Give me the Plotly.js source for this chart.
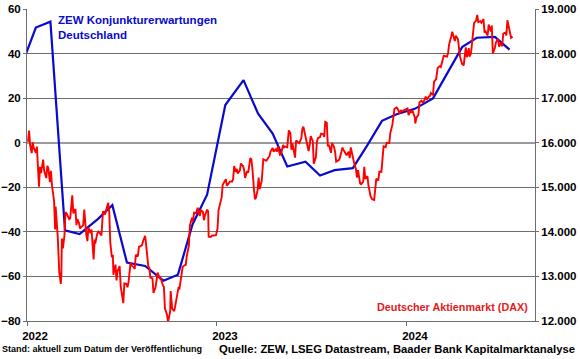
<!DOCTYPE html>
<html>
<head>
<meta charset="utf-8">
<script src="https://cdn.plot.ly/plotly-3.0.1.min.js"></script>
<style>
html,body{margin:0;padding:0;background:#fff;}
#chart{width:580px;height:359px;}
</style>
</head>
<body>
<div id="chart"></div>
<script>
// ZEW Konjunkturerwartungen Deutschland (monthly release dates)
const zewDates = ["2021-12-14","2022-01-18","2022-02-15","2022-03-15","2022-04-12","2022-05-17","2022-06-14","2022-07-12","2022-08-16","2022-09-20","2022-10-18","2022-11-15","2022-12-13",
"2023-01-17","2023-02-21","2023-03-21","2023-04-18","2023-05-16","2023-06-20","2023-07-18","2023-08-15","2023-09-19","2023-10-17","2023-11-14","2023-12-12",
"2024-01-16","2024-02-20","2024-03-19","2024-04-16","2024-05-14","2024-06-18","2024-07-16"];
const zewValues = [29.9,51.7,54.3,-39.3,-41.0,-34.3,-28.0,-53.8,-55.3,-61.9,-59.2,-36.7,-23.3,
16.9,28.1,13.0,4.1,-10.7,-8.5,-14.7,-12.3,-11.4,-1.1,9.8,12.8,
15.2,19.9,31.7,42.9,47.1,47.5,41.8];

// Deutscher Aktienmarkt (DAX)
const daxDates = [
"2022-01-03","2022-01-05","2022-01-07","2022-01-10","2022-01-12","2022-01-14","2022-01-18","2022-01-20","2022-01-24","2022-01-26","2022-01-28",
"2022-02-01","2022-02-03","2022-02-07","2022-02-09","2022-02-11","2022-02-14","2022-02-16","2022-02-18","2022-02-22","2022-02-24","2022-02-25",
"2022-03-01","2022-03-04","2022-03-07","2022-03-08","2022-03-09","2022-03-11","2022-03-14","2022-03-16","2022-03-18","2022-03-21","2022-03-23","2022-03-25","2022-03-29","2022-03-31",
"2022-04-04","2022-04-06","2022-04-08","2022-04-11","2022-04-13","2022-04-19","2022-04-21","2022-04-25","2022-04-27","2022-04-29",
"2022-05-03","2022-05-05","2022-05-09","2022-05-11","2022-05-12","2022-05-16","2022-05-18","2022-05-20","2022-05-24","2022-05-27","2022-05-31",
"2022-06-02","2022-06-06","2022-06-08","2022-06-10","2022-06-13","2022-06-15","2022-06-16","2022-06-20","2022-06-22","2022-06-24","2022-06-28","2022-06-30",
"2022-07-05","2022-07-07","2022-07-11","2022-07-13","2022-07-15","2022-07-19","2022-07-21","2022-07-25","2022-07-27","2022-07-29",
"2022-08-02","2022-08-04","2022-08-08","2022-08-10","2022-08-12","2022-08-16","2022-08-18","2022-08-22","2022-08-24","2022-08-26","2022-08-30",
"2022-09-01","2022-09-05","2022-09-07","2022-09-09","2022-09-13","2022-09-15","2022-09-19","2022-09-21","2022-09-23","2022-09-27","2022-09-29",
"2022-10-03","2022-10-04","2022-10-07","2022-10-11","2022-10-13","2022-10-17","2022-10-19","2022-10-21","2022-10-25","2022-10-27","2022-10-31",
"2022-11-02","2022-11-04","2022-11-08","2022-11-10","2022-11-14","2022-11-16","2022-11-18","2022-11-22","2022-11-25","2022-11-29",
"2022-12-01","2022-12-05","2022-12-07","2022-12-09","2022-12-13","2022-12-15","2022-12-16","2022-12-20","2022-12-22","2022-12-30",
"2023-01-02","2023-01-04","2023-01-06","2023-01-10","2023-01-12","2023-01-16","2023-01-18","2023-01-20","2023-01-24","2023-01-26","2023-01-30",
"2023-02-01","2023-02-03","2023-02-06","2023-02-08","2023-02-10","2023-02-14","2023-02-16","2023-02-20","2023-02-22","2023-02-24","2023-02-28",
"2023-03-02","2023-03-06","2023-03-08","2023-03-10","2023-03-13","2023-03-15","2023-03-17","2023-03-20","2023-03-22","2023-03-24","2023-03-28","2023-03-31",
"2023-04-04","2023-04-06","2023-04-12","2023-04-14","2023-04-18","2023-04-20","2023-04-24","2023-04-26","2023-04-28",
"2023-05-02","2023-05-04","2023-05-08","2023-05-10","2023-05-12","2023-05-16","2023-05-19","2023-05-22","2023-05-24","2023-05-26","2023-05-31",
"2023-06-02","2023-06-06","2023-06-08","2023-06-12","2023-06-14","2023-06-16","2023-06-20","2023-06-22","2023-06-26","2023-06-28","2023-06-30",
"2023-07-04","2023-07-06","2023-07-10","2023-07-12","2023-07-14","2023-07-18","2023-07-20","2023-07-24","2023-07-26","2023-07-28","2023-07-31",
"2023-08-02","2023-08-04","2023-08-08","2023-08-10","2023-08-14","2023-08-16","2023-08-18","2023-08-22","2023-08-24","2023-08-28","2023-08-30",
"2023-09-01","2023-09-05","2023-09-07","2023-09-11","2023-09-13","2023-09-15","2023-09-19","2023-09-21","2023-09-25","2023-09-27","2023-09-29",
"2023-10-03","2023-10-05","2023-10-09","2023-10-11","2023-10-13","2023-10-17","2023-10-19","2023-10-23","2023-10-26","2023-10-30",
"2023-11-01","2023-11-03","2023-11-07","2023-11-09","2023-11-13","2023-11-15","2023-11-17","2023-11-21","2023-11-23","2023-11-28","2023-11-30",
"2023-12-04","2023-12-06","2023-12-08","2023-12-12","2023-12-14","2023-12-18","2023-12-20","2023-12-22","2023-12-28",
"2024-01-02","2024-01-04","2024-01-08","2024-01-10","2024-01-12","2024-01-16","2024-01-17","2024-01-19","2024-01-23","2024-01-25","2024-01-29","2024-01-31",
"2024-02-02","2024-02-06","2024-02-08","2024-02-12","2024-02-14","2024-02-16","2024-02-20","2024-02-22","2024-02-26","2024-02-29",
"2024-03-04","2024-03-06","2024-03-08","2024-03-12","2024-03-14","2024-03-18","2024-03-20","2024-03-22","2024-03-26","2024-03-28",
"2024-04-02","2024-04-04","2024-04-08","2024-04-10","2024-04-12","2024-04-16","2024-04-19","2024-04-23","2024-04-25","2024-04-29","2024-04-30",
"2024-05-03","2024-05-07","2024-05-09","2024-05-13","2024-05-15","2024-05-17","2024-05-21","2024-05-23","2024-05-27","2024-05-29","2024-05-31",
"2024-06-04","2024-06-06","2024-06-10","2024-06-12","2024-06-14","2024-06-18","2024-06-20","2024-06-24","2024-06-26","2024-06-28",
"2024-07-02","2024-07-04","2024-07-08","2024-07-10","2024-07-12","2024-07-15","2024-07-17","2024-07-19","2024-07-22"];
const daxValues = [
16021,16271,15948,15768,16010,15883,15773,15912,15011,15460,15318,
15619,15368,15207,15482,15425,15114,15370,15042,14693,14052,14567,
13905,13094,12832,13037,13848,13628,13929,14441,14413,14326,14284,14306,14820,14415,
14518,14152,14284,14193,14076,14150,14502,13924,13793,14098,
13971,14052,13380,13828,13740,13964,14007,13982,13919,14462,14388,
14485,14653,14446,13762,13427,13485,13038,13265,12912,13118,13231,12784,
12401,12843,12832,12756,12865,13308,13246,13210,13166,13484,
13449,13662,13687,13700,13795,13910,13697,13230,13194,12971,12961,
12631,12761,12916,13088,12956,12956,12803,12767,12284,12140,11975,
12209,12671,12273,12220,12356,12649,12742,12731,13053,13211,13253,
13257,13460,13688,14146,14314,14233,14432,14422,14541,14355,
14490,14448,14261,14370,14498,14460,13893,13884,13914,13924,
14069,14490,14610,14774,15058,15135,15181,15033,15093,15132,15126,
15181,15476,15345,15413,15308,15380,15534,15477,15400,15210,15365,
15328,15654,15631,15428,14959,14735,14768,14934,15216,14957,15142,15629,
15603,15598,15703,15808,15882,15796,15863,15796,15922,
15727,15734,15952,15896,15913,15897,16275,16223,15842,15984,15664,
16051,15993,15990,16098,16310,16358,16111,15989,15813,15949,16148,
16039,15529,15673,16024,16105,16125,16204,16191,16131,16469,16447,
15920,15952,15774,15997,15904,15789,15574,15603,15621,15792,15891,
15840,15743,15718,15800,15654,15894,15664,15572,15405,15217,15387,
15085,15070,15129,15460,15187,15252,15045,14800,14731,14716,
14923,15189,15153,15353,15345,15749,15919,15900,15994,15993,16215,
16405,16656,16759,16792,16767,16650,16733,16706,16742,
16769,16617,16716,16689,16705,16572,16432,16555,16627,16907,16942,16904,
16918,17033,16963,17037,17047,17117,17068,17370,17424,17678,
17716,17698,17815,17965,17942,17933,18015,18206,18384,18492,
18283,18403,18319,18098,17930,17767,17737,18137,17917,18118,17932,
18001,18430,18686,18742,18869,18704,18726,18691,18774,18473,18497,
18406,18652,18494,18630,18002,18131,18254,18325,18155,18235,
18164,18450,18472,18407,18748,18590,18437,18354,18380];

const yearTicks = ["2022-01-01","2023-01-01","2024-01-01"];
const yearLabels = ["2022","2023","2024"];
const zewTicks = [-80,-60,-40,-20,0,20,40,60];
const daxTicks = [12000,13000,14000,15000,16000,17000,18000,19000];

const FONT = "Liberation Sans, Arial, sans-serif";
const GRID = "#6e6e6e";

const traces = [
  {x: daxDates, y: daxValues, yaxis: "y2", type: "scatter", mode: "lines",
   line: {color: "#ff0000", width: 1.9}, hoverinfo: "skip", name: "DAX"},
  {x: zewDates, y: zewValues, yaxis: "y", type: "scatter", mode: "lines",
   line: {color: "#0a0acc", width: 2.2}, hoverinfo: "skip", name: "ZEW"}
];

const layout = {
  width: 580, height: 359,
  margin: {l: 27, r: 45, t: 9, b: 38, pad: 0},
  paper_bgcolor: "#ffffff", plot_bgcolor: "#ffffff",
  showlegend: false,
  separators: ",.",
  font: {family: FONT, color: "#000", size: 11.5},
  xaxis: {
    type: "date", range: ["2022-01-01", "2024-09-03"],
    tickvals: yearTicks, ticktext: yearLabels,
    ticks: "outside", ticklen: 4, tickcolor: GRID, tickwidth: 1,
    ticklabelshift: 8,
    showgrid: false, zeroline: false,
    showline: true, linecolor: GRID, linewidth: 1,
    tickfont: {family: FONT, size: 11.5, color: "#000", weight: "bold"},
    fixedrange: true
  },
  yaxis: {
    range: [-80, 60], tickvals: zewTicks,
    ticks: "outside", ticklen: 3, tickcolor: GRID,
    showgrid: true, gridcolor: GRID, gridwidth: 1,
    zeroline: true, zerolinecolor: "#9a9a9a", zerolinewidth: 2,
    showline: true, linecolor: GRID, linewidth: 1,
    tickfont: {family: FONT, size: 11.5, color: "#000", weight: "bold"},
    fixedrange: true
  },
  yaxis2: {
    overlaying: "y", side: "right",
    range: [12000, 19000], tickvals: daxTicks, tickformat: ",d",
    ticks: "outside", ticklen: 3, tickcolor: GRID,
    showgrid: false, zeroline: false,
    showline: true, linecolor: GRID, linewidth: 1,
    tickfont: {family: FONT, size: 11.5, color: "#000", weight: "bold"},
    fixedrange: true
  },
  annotations: [
    {text: "ZEW Konjunkturerwartungen<br>Deutschland", xref: "paper", yref: "paper",
     x: 0.057, y: 0.99, xanchor: "left", yanchor: "top", align: "left", showarrow: false,
     font: {family: FONT, size: 11.5, color: "#0a0acc", weight: "bold"}},
    {text: "Deutscher Aktienmarkt (DAX)", xref: "paper", yref: "paper",
     x: 0.99, y: 0.045, xanchor: "right", yanchor: "middle", showarrow: false,
     font: {family: FONT, size: 10.8, color: "#e31a1c", weight: "bold"}},
    {text: "Stand: aktuell zum Datum der Veröffentlichung", xref: "paper", yref: "paper",
     x: -0.053, y: -0.09, xanchor: "left", yanchor: "middle", showarrow: false,
     font: {family: FONT, size: 9, color: "#000", weight: "bold"}},
    {text: "Quelle: ZEW, LSEG Datastream, Baader Bank Kapitalmarktanalyse", xref: "paper", yref: "paper",
     x: 1.0825, y: -0.09, xanchor: "right", yanchor: "middle", showarrow: false,
     font: {family: FONT, size: 11.3, color: "#000", weight: "bold"}}
  ]
};

Plotly.newPlot("chart", traces, layout, {staticPlot: true, displayModeBar: false});
</script>
</body>
</html>
